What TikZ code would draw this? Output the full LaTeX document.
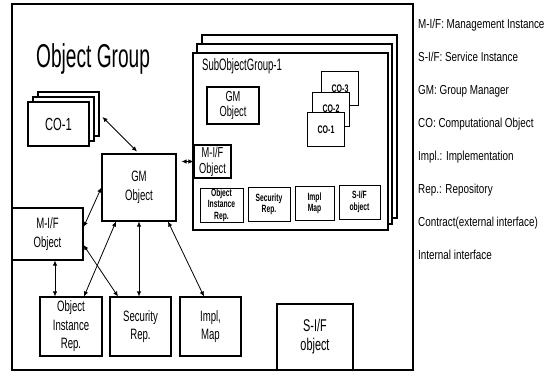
\documentclass[tikz,border=0pt]{standalone}
\usepackage{fontspec}
\setmainfont{Liberation Sans}
\newfontfamily\objfont[FakeStretch=0.64]{Liberation Sans}
\newfontfamily\headfont[FakeStretch=0.58]{Liberation Sans}
\newfontfamily\keyfont[FakeStretch=0.76]{Liberation Sans}
\usetikzlibrary{arrows.meta,calc}
\tikzset{
  frame/.style={draw, line width=1.1pt},
  objbox/.style={draw, line width=1.1pt, fill=white, align=center, inner sep=0pt,
    font={\objfont\fontsize{15}{18.5}\selectfont}},
  innerbox/.style={objbox, font={\objfont\fontsize{14.5}{15.5}\selectfont}},
  smallbox/.style={objbox, line width=1pt, font={\objfont\bfseries\fontsize{10.5}{11.5}\selectfont}},
  page/.style={objbox, minimum width=61pt, minimum height=44pt,
    font={\objfont\fontsize{17.5}{18}\selectfont}},
  copage/.style={objbox, line width=1pt, minimum width=37pt, minimum height=34pt,
    font={\objfont\bfseries\fontsize{11}{12}\selectfont}},
  sheet/.style={draw, line width=1.1pt, fill=white, minimum width=195pt},
  grouptitle/.style={inner sep=0pt, font={\headfont\fontsize{33}{33}\selectfont}},
  subtitle/.style={inner sep=0pt, font={\headfont\fontsize{16.5}{16.5}\selectfont}},
  keytext/.style={inner sep=0pt, font={\keyfont\fontsize{13}{14}\selectfont}},
  link/.style={{Latex[length=5pt,width=4.5pt]}-{Latex[length=5pt,width=4.5pt]}, line width=0.8pt}
}
\begin{document}
\begin{tikzpicture}[x=1pt,y=-1pt]
  \useasboundingbox (0,0) rectangle (556,376);
  % object group frame
  \draw[frame] (12,4) rectangle (413,370);
  \node[grouptitle, anchor=base west] (title) at (36,67) {Object Group};

  % computational objects, stacked
  \node[page] (coC) at (68.5,114) {};
  \node[page] (coB) at (63.5,119) {};
  \node[page] (coA) at (58.5,124) {CO-1};

  % sub object group, stacked sheets
  \node[sheet, minimum height=183pt] (subC) at (299.5,126.5) {};
  \node[sheet, minimum height=180pt] (subB) at (294.5,134) {};
  \node[sheet, minimum height=177pt] (subA) at (290.5,141.5) {};
  \node[subtitle, anchor=base west] (subtitle) at (202,70) {SubObjectGroup-1};

  \node[innerbox, minimum width=52pt, minimum height=37pt] (sgm) at (233,105.5) {GM\\Object};
  \node[copage] (sco3) at (340,88.5) {CO-3};
  \node[copage] (sco2) at (331,109) {CO-2};
  \node[copage] (sco1) at (326,129.5) {CO-1};
  \node[innerbox, minimum width=37pt, minimum height=33pt] (smif) at (212.5,161.5) {M-I/F\\Object};
  \node[smallbox, minimum width=43pt, minimum height=34pt] (soir) at (221.5,205) {Object\\Instance\\Rep.};
  \node[smallbox, minimum width=42pt, minimum height=34pt] (ssec) at (269,204.5) {Security\\Rep.};
  \node[smallbox, minimum width=39pt, minimum height=34pt] (simpl) at (314.5,203.5) {Impl\\Map};
  \node[smallbox, minimum width=41pt, minimum height=34pt] (ssif) at (359.5,202) {S-I/F\\object};

  % group level objects
  \node[objbox, minimum width=74pt, minimum height=67pt] (gm) at (139,187.5) {GM\\Object};
  \node[objbox, minimum width=71pt, minimum height=52pt] (mif) at (47.5,234) {M-I/F\\Object};
  \node[objbox, minimum width=62pt, minimum height=59pt] (oir) at (71,326.5) {Object\\Instance\\Rep.};
  \node[objbox, minimum width=61pt, minimum height=59pt] (sec) at (140.5,326.5) {Security\\Rep.};
  \node[objbox, minimum width=61pt, minimum height=59pt] (impl) at (210.5,326.5) {Impl,\\Map};
  \node[objbox, minimum width=76pt, minimum height=66pt,
    font={\objfont\fontsize{17}{19}\selectfont}] (sif) at (315,337) {S-I/F\\object};

  % interfaces
  \draw[link] ([xshift=3pt,yshift=-3pt]coC.east) -- ([xshift=-2pt,yshift=2pt]gm.north);
  \draw[link, shorten <=5pt] (gm.east |- smif.west) -- (smif.west);
  \draw[link] (gm.west) -- ([yshift=7pt]mif.east);
  \draw[link] ([xshift=7.5pt]mif.south) -- ([xshift=7.5pt]mif.south |- oir.north);
  \draw[link] ([xshift=-23pt]gm.south) -- ([xshift=13pt]oir.north);
  \draw[link] ([yshift=-11pt]mif.east) -- ([xshift=-22.5pt]sec.north);
  \draw[link] (gm.south) -- (gm.south |- sec.north);
  \draw[link] ([xshift=29pt]gm.south) -- ([xshift=-6.5pt]impl.north);

  % key
  \node[keytext, anchor=base west] (key1) at (418,28) {M-I/F: Management Instance};
  \node[keytext, anchor=base west] (key2) at (418,61) {S-I/F: Service Instance};
  \node[keytext, anchor=base west] (key3) at (418,94) {GM: Group Manager};
  \node[keytext, anchor=base west] (key4) at (418,127) {CO: Computational Object};
  \node[keytext, anchor=base west] (key5) at (418,160) {Impl.: Implementation};
  \node[keytext, anchor=base west] (key6) at (418,193) {Rep.: Repository};
  \node[keytext, anchor=base west] (key7) at (418,226) {Contract(external interface)};
  \node[keytext, anchor=base west] (key8) at (418,259) {Internal interface};
\end{tikzpicture}
\end{document}
